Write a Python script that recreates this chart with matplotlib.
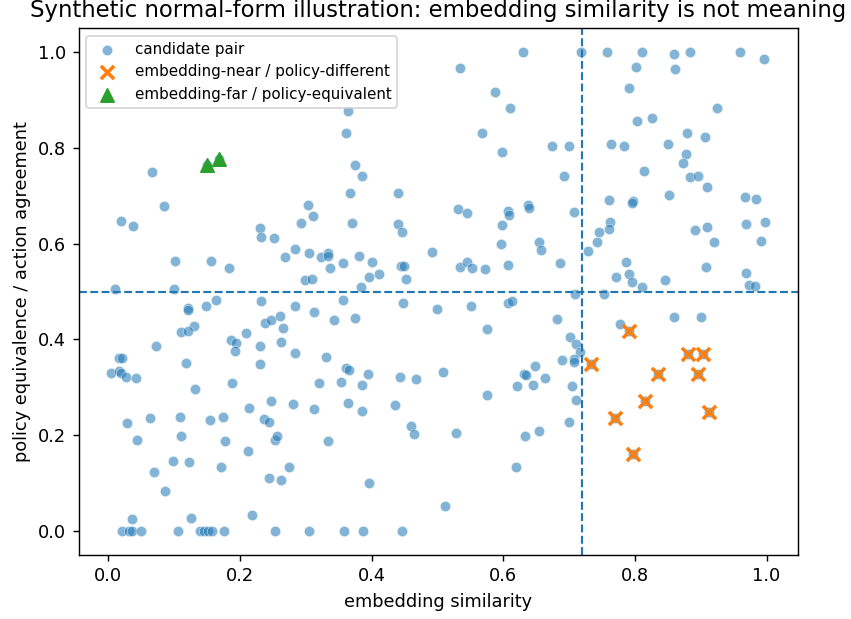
import matplotlib
matplotlib.use("Agg")
import matplotlib.pyplot as plt
import numpy as np

# candidate pairs (embedding similarity, policy equivalence)
cand_x = [
    0.630, 0.718, 0.758, 0.811, 0.859, 0.883, 0.959, 0.996,
    0.802, 0.861, 0.791, 0.925, 0.803, 0.826, 0.879, 0.906,
    0.674, 0.700, 0.763, 0.783, 0.850, 0.877, 0.873,
    0.692, 0.814, 0.883, 0.896, 0.910, 0.852, 0.761,
    0.797, 0.796, 0.967, 0.984, 0.707, 0.762, 0.969, 0.998,
    0.745, 0.760, 0.742, 0.729, 0.655, 0.657, 0.686, 0.786,
    0.791, 0.771, 0.796, 0.811, 0.845, 0.891, 0.910, 0.920,
    0.992, 0.908, 0.968, 0.973, 0.983,
    0.709, 0.753, 0.681, 0.778, 0.860, 0.900, 0.702, 0.711, 0.716,
    0.689, 0.707, 0.707, 0.664, 0.705, 0.711, 0.700, 0.655,
    0.791, 0.733, 0.880, 0.904, 0.835, 0.896, 0.770, 0.815, 0.912, 0.797,
    0.361, 0.366, 0.395, 0.320, 0.354, 0.386, 0.444, 0.467, 0.508, 0.576,
    0.631, 0.635, 0.649, 0.621, 0.645, 0.313, 0.365, 0.385, 0.436, 0.460,
    0.464, 0.528, 0.633, 0.334, 0.620, 0.396, 0.512,
    0.305, 0.358, 0.387, 0.447,
    0.005, 0.016, 0.020, 0.027, 0.043, 0.119, 0.132, 0.188, 0.231,
    0.029, 0.064, 0.109, 0.154, 0.174, 0.214, 0.247, 0.281, 0.237, 0.244,
    0.044, 0.111, 0.177, 0.254, 0.257, 0.213, 0.069, 0.098, 0.123, 0.171,
    0.245, 0.262, 0.275, 0.086, 0.037, 0.126, 0.219,
    0.021, 0.032, 0.036, 0.050, 0.106, 0.139, 0.146, 0.151, 0.158, 0.176,
    0.254,
    0.020, 0.038, 0.230, 0.232, 0.252, 0.293, 0.311, 0.102, 0.157, 0.184,
    0.269, 0.284, 0.305, 0.299, 0.309, 0.011, 0.100, 0.164, 0.149, 0.122,
    0.122, 0.232, 0.284, 0.312, 0.130, 0.111, 0.121, 0.238, 0.248, 0.261,
    0.266, 0.073, 0.187, 0.194, 0.193, 0.209, 0.230, 0.263, 0.284, 0.017,
    0.021,
    0.370, 0.440, 0.446, 0.598, 0.597, 0.324, 0.334, 0.334, 0.337, 0.356,
    0.381, 0.400, 0.396, 0.412, 0.384, 0.445, 0.450, 0.452, 0.492, 0.534,
    0.545, 0.553, 0.572, 0.607,
    0.356, 0.343, 0.375, 0.448, 0.500, 0.551, 0.608, 0.614, 0.575, 0.331,
    0.535, 0.587, 0.611, 0.568, 0.598, 0.364, 0.361, 0.375, 0.385, 0.368,
    0.440, 0.303, 0.532, 0.545, 0.608, 0.609, 0.637, 0.639,
    0.066, 0.085, 0.150, 0.169,
]
cand_y = [
    1.000, 1.000, 1.000, 1.000, 0.995, 1.000, 1.000, 0.985,
    0.969, 0.965, 0.925, 0.883, 0.855, 0.863, 0.830, 0.823,
    0.804, 0.804, 0.807, 0.804, 0.807, 0.787, 0.769,
    0.741, 0.752, 0.739, 0.742, 0.718, 0.702, 0.692,
    0.688, 0.684, 0.697, 0.694, 0.666, 0.646, 0.640, 0.646,
    0.625, 0.630, 0.604, 0.584, 0.604, 0.586, 0.560, 0.561,
    0.536, 0.530, 0.520, 0.509, 0.523, 0.629, 0.635, 0.604,
    0.606, 0.552, 0.539, 0.514, 0.511,
    0.494, 0.495, 0.443, 0.432, 0.447, 0.447, 0.406, 0.390, 0.373,
    0.356, 0.359, 0.352, 0.319, 0.303, 0.273, 0.228, 0.209,
    0.417, 0.348, 0.370, 0.370, 0.328, 0.328, 0.237, 0.272, 0.248, 0.160,
    0.340, 0.337, 0.327, 0.310, 0.312, 0.305, 0.321, 0.317, 0.332, 0.284,
    0.327, 0.325, 0.344, 0.303, 0.305, 0.255, 0.268, 0.251, 0.264, 0.220,
    0.203, 0.205, 0.198, 0.187, 0.134, 0.100, 0.053,
    0.000, 0.000, 0.000, 0.000,
    0.330, 0.335, 0.330, 0.322, 0.319, 0.351, 0.296, 0.310, 0.348,
    0.225, 0.236, 0.239, 0.231, 0.239, 0.256, 0.272, 0.266, 0.234, 0.227,
    0.189, 0.198, 0.187, 0.189, 0.198, 0.168, 0.123, 0.146, 0.144, 0.134,
    0.111, 0.106, 0.134, 0.084, 0.026, 0.028, 0.033,
    0.000, 0.000, 0.000, 0.000, 0.000, 0.000, 0.000, 0.000, 0.000, 0.000,
    0.000,
    0.648, 0.637, 0.633, 0.614, 0.611, 0.642, 0.658, 0.564, 0.564, 0.549,
    0.571, 0.589, 0.580, 0.525, 0.527, 0.505, 0.505, 0.482, 0.470, 0.465,
    0.461, 0.481, 0.470, 0.457, 0.427, 0.415, 0.418, 0.435, 0.440, 0.449,
    0.423, 0.386, 0.398, 0.392, 0.375, 0.413, 0.387, 0.394, 0.372, 0.362,
    0.362,
    0.642, 0.641, 0.625, 0.639, 0.600, 0.571, 0.580, 0.575, 0.550, 0.560,
    0.574, 0.562, 0.531, 0.536, 0.510, 0.553, 0.553, 0.526, 0.582, 0.552,
    0.562, 0.550, 0.546, 0.555,
    0.483, 0.440, 0.445, 0.476, 0.463, 0.470, 0.477, 0.481, 0.422, 0.363,
    0.966, 0.917, 0.884, 0.831, 0.792, 0.876, 0.831, 0.764, 0.742, 0.706,
    0.706, 0.680, 0.673, 0.663, 0.667, 0.660, 0.681, 0.675,
    0.749, 0.678, 0.763, 0.777,
]

# highlighted subsets
near_x = [0.791, 0.733, 0.880, 0.904, 0.835, 0.896, 0.770, 0.815, 0.912, 0.797]
near_y = [0.417, 0.348, 0.370, 0.370, 0.328, 0.328, 0.237, 0.272, 0.248, 0.160]
far_x = [0.150, 0.169]
far_y = [0.763, 0.777]

emb_thresh = 0.72
pol_thresh = 0.5

dpi = 128
fig, ax = plt.subplots(figsize=(851 / dpi, 619 / dpi), dpi=dpi)

ax.scatter(cand_x, cand_y, s=34, color="C0", alpha=0.55,
           edgecolors="white", linewidths=0.4, label="candidate pair")
ax.scatter(near_x, near_y, s=55, marker="x", color="C1", linewidths=2,
           label="embedding-near / policy-different")
ax.scatter(far_x, far_y, s=55, marker="^", color="C2",
           label="embedding-far / policy-equivalent")

ax.axvline(emb_thresh, linestyle="--", color="C0", linewidth=1.2)
ax.axhline(pol_thresh, linestyle="--", color="C0", linewidth=1.2)

ax.set_xlabel("embedding similarity")
ax.set_ylabel("policy equivalence / action agreement")
ax.set_title("Synthetic normal-form illustration: embedding similarity is not meaning",
             fontsize=12.8)
ax.legend(loc="upper left", fontsize=8.5)

fig.subplots_adjust(left=78.7 / 851, right=798 / 851, top=1 - 28 / 619, bottom=1 - 555 / 619)
fig.savefig("out.png", dpi=dpi)
